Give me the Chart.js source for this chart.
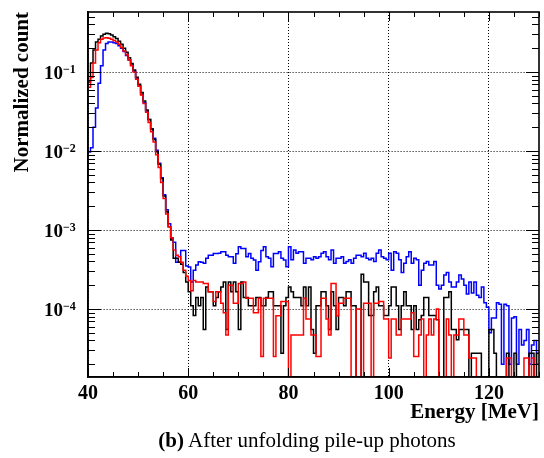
<!DOCTYPE html>
<html>
<head>
<meta charset="utf-8">
<script src="https://cdn.jsdelivr.net/npm/chart.js@4.4.1/dist/chart.umd.min.js"></script>
<style>
  html, body { margin: 0; padding: 0; background: #fff; }
  #wrap { position: relative; width: 544px; height: 458px; }
  #caption { position: absolute; left: 70px; width: 474px; top: 428px; text-align: center;
             font-family: "Liberation Serif", "Times New Roman", serif; font-size: 21px; color: #000; }
</style>
</head>
<body>
<div id="wrap">
  <canvas id="chart" width="544" height="458"></canvas>
  <div id="caption"><b>(b)</b> After unfolding pile-up photons</div>
</div>
<script>
// histogram bins: 0.5 MeV wide, starting at 40 MeV
const binStart = 40;
const binWidth = 0.5;
const xTickValues = [40, 60, 80, 100, 120];
const yTickPowers = [-1, -2, -3, -4];

const blackCounts = [
  0.075, 0.13, 0.19, 0.24, 0.26, 0.285, 0.3, 0.31, 0.305, 0.295,
  0.28, 0.265, 0.245, 0.225, 0.2, 0.178, 0.152, 0.128, 0.106, 0.086,
  0.07, 0.055, 0.043, 0.033, 0.025, 0.019, 0.014, 0.0098, 0.0068, 0.0045,
  0.0027, 0.0017, 0.0011, 0.00075, 0.00044, 0.00044, 0.00039, 0.00037, 0.00029, 0.00022,
  1.65e-4, 1.1e-4, 8.3e-5, 1.4e-4, 1.1e-4, 1.4e-4, 5.5e-5, 1.9e-4, 1.65e-4, 1.65e-4,
  1.1e-4, 1.4e-4, 1.65e-4, 1.9e-4, 2.2e-4, 5.5e-5, 2.2e-4, 1.65e-4, 2.2e-4, 1.65e-4,
  5.5e-5, 2.2e-4, 1.4e-4, 1.4e-4, 1.1e-4, 1.1e-4, 1.1e-4, 1.4e-4, 1.4e-4, 1.1e-4,
  1.1e-4, 1.4e-4, 1.65e-4, 1.65e-4, 1.1e-4, 1.1e-4, 1.1e-4, 2.75e-5, 1.1e-4, 1.4e-4,
  1.9e-4, 1.65e-4, 1.4e-4, 1.4e-4, 1.4e-4,
  1.1e-4, 1.9e-4, 1.1e-4, 1.9e-4, 5.5e-5, 2.75e-5, 1.1e-4, 1.1e-4, 1.65e-4, 1.65e-4,
  1.1e-4, 5.5e-5, 1.65e-4, 1.1e-4, 5.5e-5, 1.4e-4, 1.4e-4, 1.1e-4, 1.65e-4, 1.65e-4,
  1.1e-4, 1.1e-4, 0, 0, 2.75e-4, 2.2e-4, 2.2e-4, 8.3e-5, 8.3e-5, 1.65e-4,
  1.9e-4, 1.1e-4, 1.1e-4, 8.3e-5, 8.3e-5, 1.1e-4, 1.9e-4, 1.9e-4, 1.1e-4, 5.5e-5,
  1.1e-4, 1.65e-4, 1.1e-4, 1.1e-4, 5.5e-5, 1.1e-4, 5.5e-5,
  7.3e-5, 8.3e-5, 1.4e-4, 1.4e-4, 8.3e-5, 8.3e-5, 8.3e-5, 7.3e-5, 0, 0,
  1.4e-4, 1.4e-4, 1.65e-4, 5.5e-5, 5.5e-5, 4.1e-5, 5.5e-5, 5.5e-5, 5.5e-5, 5.5e-5,
  0, 2.75e-5, 2.75e-5, 2.75e-5, 2.75e-5, 0, 0, 0, 5.5e-5, 5.5e-5,
  2.75e-5, 0, 0, 0, 0, 2.75e-5, 0, 0, 2.75e-5, 0,
  0, 0, 0, 0, 2.75e-5, 2.75e-5, 0, 2.75e-5
];

const redCounts = [
  0.064, 0.085, 0.13, 0.19, 0.235, 0.26, 0.27, 0.272, 0.268, 0.26,
  0.25, 0.24, 0.225, 0.205, 0.185, 0.165, 0.143, 0.12, 0.1, 0.081,
  0.066, 0.051, 0.04, 0.031, 0.023, 0.0175, 0.013, 0.009, 0.0062, 0.004,
  0.0025, 0.0016, 0.0011, 0.0008, 0.00056, 0.00048, 0.00046, 0.00039, 0.00031, 0.00026,
  2.3e-4, 1.7e-4, 2.3e-4, 2.2e-4, 2.2e-4, 2.2e-4, 2.1e-4, 2.1e-4, 1.66e-4, 1.66e-4,
  1.25e-4, 1.66e-4, 1.66e-4, 1.18e-4, 9e-5, 4.7e-5, 2.0e-4, 2.0e-4, 1.18e-4, 1.18e-4,
  2.1e-4, 2.1e-4, 2.2e-4, 1.37e-4, 1.37e-4, 1.37e-4, 9e-5, 9e-5, 1.37e-4, 2.5e-5,
  1.37e-4, 1.37e-4, 1.37e-4, 1.37e-4, 2.5e-5, 8.2e-5, 8.2e-5, 1.25e-4, 1.25e-4, 1.25e-4,
  0, 4.7e-5, 4.7e-5, 4.7e-5, 4.7e-5,
  4.7e-5, 1.37e-4, 7.5e-5, 7.5e-5, 4.7e-5, 4.7e-5, 2.5e-5, 2.5e-5, 1.37e-4, 1.37e-4,
  7.5e-5, 4.7e-5, 2.1e-4, 2.1e-4, 8.2e-5, 1.18e-4, 1.18e-4, 1.37e-4, 1.37e-4, 1.37e-4,
  0, 0, 1.0e-4, 1.0e-4, 0, 1.18e-4, 1.18e-4, 1.18e-4, 0, 1.18e-4,
  1.18e-4, 1.25e-4, 1.25e-4, 7.5e-5, 7.5e-5, 2.4e-5, 7.5e-5, 7.5e-5, 4.7e-5, 4.7e-5,
  7.5e-5, 7.5e-5, 7.5e-5, 7.5e-5, 9e-5, 2.5e-5, 2.5e-5,
  4.7e-5, 7.5e-5, 0, 4.7e-5, 7.5e-5, 4.7e-5, 7.5e-5, 1.0e-4, 0, 0,
  0, 7.5e-5, 4.7e-5, 0, 4.7e-5, 4.7e-5, 7.5e-5, 7.5e-5, 4.7e-5, 4.7e-5,
  2.4e-5, 2.4e-5, 2.4e-5, 0, 0, 0, 0, 0, 0, 0,
  0, 0, 0, 0, 0, 2.4e-5, 2.4e-5, 0, 0, 0,
  0, 0, 2.4e-5, 2.4e-5, 0, 2.4e-5, 0, 0
];

const blueCounts = [
  0.0097, 0.011, 0.02, 0.035, 0.072, 0.12, 0.19, 0.23, 0.24, 0.24,
  0.235, 0.23, 0.215, 0.2, 0.182, 0.162, 0.142, 0.122, 0.102, 0.084,
  0.067, 0.052, 0.041, 0.032, 0.025, 0.019, 0.0145, 0.0102, 0.007, 0.0046,
  0.0028, 0.0018, 0.0012, 0.00078, 0.0007, 0.00039, 0.00039, 0.00055, 0.00055, 0.00035,
  3.4e-4, 2.2e-4, 3.1e-4, 3.6e-4, 3.97e-4, 3.9e-4, 3.8e-4, 4.4e-4, 4.8e-4, 4.8e-4,
  5.06e-4, 5.06e-4, 5.1e-4, 5.3e-4, 5.3e-4, 4.8e-4, 4.6e-4, 4.6e-4, 3.8e-4, 5.0e-4,
  6.15e-4, 5.85e-4, 5.85e-4, 4.6e-4, 5.06e-4, 4.4e-4, 4.17e-4, 3.1e-4, 3.97e-4, 5.5e-4,
  6.15e-4, 4.6e-4, 4.4e-4, 3.43e-4, 5.06e-4, 5.06e-4, 5.3e-4, 4.4e-4, 4.17e-4, 3.43e-4,
  6.15e-4, 4.2e-4, 5.6e-4, 5.1e-4, 5.3e-4,
  5.3e-4, 3.8e-4, 4.4e-4, 4.4e-4, 4.2e-4, 4.6e-4, 4.4e-4, 4.6e-4, 5.1e-4, 5.3e-4,
  4.6e-4, 4.2e-4, 5.6e-4, 3.8e-4, 4.4e-4, 4.4e-4, 4.6e-4, 3.8e-4, 4.0e-4, 4.2e-4,
  3.8e-4, 4.4e-4, 4.8e-4, 4.8e-4, 4.6e-4, 5.1e-4, 4.4e-4, 4.2e-4, 4.4e-4, 4.0e-4,
  5.1e-4, 5.6e-4, 4.6e-4, 4.4e-4, 4.2e-4, 5.1e-4, 3.1e-4, 5.3e-4, 5.1e-4, 4.2e-4,
  2.9e-4, 3.8e-4, 4.6e-4, 5.3e-4, 3.8e-4, 4.4e-4, 4.2e-4,
  2.0e-4, 3.1e-4, 3.8e-4, 4.0e-4, 3.6e-4, 3.6e-4, 4.0e-4, 2.0e-4, 1.8e-4, 2.0e-4,
  2.7e-4, 2.9e-4, 2.2e-4, 1.9e-4, 1.9e-4, 2.2e-4, 2.7e-4, 2.4e-4, 2.0e-4, 1.55e-4,
  2.2e-4, 1.6e-4, 2.2e-4, 1.5e-4, 1.4e-4, 1.9e-4, 1.2e-4, 1.05e-4, 5e-5, 7.7e-5,
  7.7e-5, 1.2e-4, 1.15e-4, 2e-5, 1.15e-4, 1.1e-4, 2e-5, 7.7e-5, 8e-5, 2e-5,
  5.5e-5, 3.5e-5, 4e-5, 5.5e-5, 2e-5, 3.5e-5, 4e-5, 2e-5
];

const serif = '"Liberation Serif", "Times New Roman", serif';
const yMin = 1.38e-5;
const yMax = 0.575;

// turn bin contents into step points (left edges + closing edge);
// empty bins are sent below the axis so the step drops out of the frame
function toSteps(counts) {
  const pts = counts.map((v, i) => ({ x: binStart + i * binWidth, y: v > 0 ? v : yMin / 10 }));
  pts.push({ x: binStart + counts.length * binWidth, y: pts[pts.length - 1].y });
  return pts;
}

function histo(label, counts, color) {
  return {
    label: label,
    data: toSteps(counts),
    borderColor: color,
    borderWidth: 1.5,
    stepped: true,
    pointRadius: 0,
    fill: false,
    tension: 0
  };
}

// ROOT style frame: inward ticks on all sides + 10^n labels
const rootFrame = {
  id: 'rootFrame',
  afterDraw(chart) {
    const { ctx, chartArea: a, scales: { x, y } } = chart;
    ctx.save();
    ctx.strokeStyle = '#000';
    ctx.lineWidth = 1;
    ctx.beginPath();
    for (let e = x.min; e <= x.max; e += 5) {
      const px = Math.round(x.getPixelForValue(e)) + 0.5;
      const len = e % 20 === 0 ? 9 : 5;
      ctx.moveTo(px, a.bottom); ctx.lineTo(px, a.bottom - len);
      ctx.moveTo(px, a.top); ctx.lineTo(px, a.top + len);
    }
    for (let p = -6; p <= 0; p++) {
      for (let m = 1; m <= 9; m++) {
        const v = m * Math.pow(10, p);
        if (v < y.min || v > y.max) continue;
        const py = Math.round(y.getPixelForValue(v)) + 0.5;
        const len = m === 1 ? 13 : 7;
        ctx.moveTo(a.left, py); ctx.lineTo(a.left + len, py);
        ctx.moveTo(a.right, py); ctx.lineTo(a.right - len, py);
      }
    }
    ctx.stroke();

    ctx.lineWidth = 1.6;
    ctx.strokeRect(a.left, a.top, a.right - a.left, a.bottom - a.top);

    ctx.fillStyle = '#000';
    ctx.textBaseline = 'alphabetic';
    yTickPowers.forEach(p => {
      const py = y.getPixelForValue(Math.pow(10, p));
      ctx.font = 'bold 19px ' + serif;
      ctx.textAlign = 'right';
      ctx.fillText('10', 63, py + 6.5);
      ctx.font = 'bold 12px ' + serif;
      ctx.textAlign = 'left';
      ctx.fillText('\u2212' + (-p), 63, py + 0.5);
    });
    ctx.restore();
  }
};

new Chart(document.getElementById('chart'), {
  type: 'line',
  data: {
    datasets: [
      histo('red', redCounts, '#ff0000'),
      histo('black', blackCounts, '#000000'),
      histo('blue', blueCounts, '#0000ff')
    ]
  },
  options: {
    responsive: false,
    animation: false,
    layout: { padding: { top: 12, right: 5, bottom: 30, left: 0 } },
    plugins: { legend: { display: false }, tooltip: { enabled: false } },
    scales: {
      x: {
        type: 'linear',
        min: 40,
        max: 130,
        afterBuildTicks: s => { s.ticks = xTickValues.map(v => ({ value: v })); },
        afterFit: s => { s.height = 51; },
        ticks: {
          color: '#000',
          padding: 5,
          maxRotation: 0,
          autoSkip: false,
          font: { family: serif, size: 20, weight: 'bold' }
        },
        grid: { color: '#000', lineWidth: 1, drawTicks: false },
        border: { color: '#000', width: 1.6, dash: [1, 2] },
        title: {
          display: true,
          text: 'Energy [MeV]',
          align: 'end',
          color: '#000',
          font: { family: serif, size: 21, weight: 'bold' },
          padding: { top: 0, bottom: 3 }
        }
      },
      y: {
        type: 'logarithmic',
        min: yMin,
        max: yMax,
        afterBuildTicks: s => { s.ticks = yTickPowers.map(p => ({ value: Math.pow(10, p) })); },
        afterFit: s => { s.width = 88; },
        ticks: { display: false },
        grid: { color: '#000', lineWidth: 1, drawTicks: false },
        border: { color: '#000', width: 1.6, dash: [1, 2] },
        title: {
          display: true,
          text: 'Normalized count',
          align: 'end',
          color: '#000',
          font: { family: serif, size: 21, weight: 'bold' },
          padding: { top: 10, bottom: 0 }
        }
      }
    }
  },
  plugins: [rootFrame]
});
</script>
</body>
</html>
